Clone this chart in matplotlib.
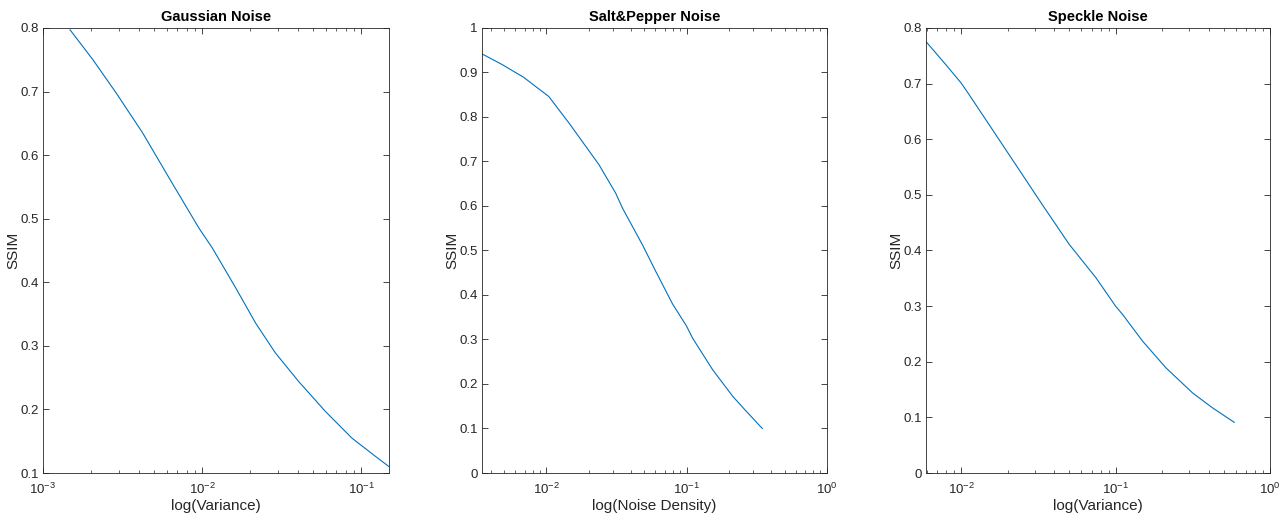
import matplotlib
matplotlib.use('Agg')
import matplotlib.pyplot as plt
import numpy as np
from matplotlib.ticker import FuncFormatter, LogLocator, NullFormatter

plt.rcParams['font.family'] = ['Liberation Sans Narrow', 'Liberation Sans', 'DejaVu Sans']
plt.rcParams['mathtext.default'] = 'regular'

# SSIM vs noise level
gauss_var = [0.00148, 0.00206, 0.00288, 0.00423, 0.00621, 0.00957, 0.0116, 0.0163,
             0.0217, 0.0289, 0.0405, 0.0596, 0.0875, 0.122, 0.15]
gauss_ssim = [0.797, 0.750, 0.698, 0.635, 0.564, 0.485, 0.454, 0.391,
              0.336, 0.289, 0.244, 0.197, 0.155, 0.127, 0.110]

sp_density = [0.00346, 0.00482, 0.00689, 0.0104, 0.01445, 0.0237, 0.0312, 0.0348,
              0.0484, 0.0603, 0.0794, 0.1, 0.1104, 0.1535, 0.2137, 0.266, 0.347]
sp_ssim = [0.942, 0.918, 0.889, 0.846, 0.787, 0.693, 0.629, 0.596,
           0.513, 0.453, 0.380, 0.330, 0.303, 0.232, 0.172, 0.139, 0.100]

speckle_var = [0.0059, 0.00796, 0.01, 0.01127, 0.01596, 0.0226, 0.0336, 0.0501,
               0.0746, 0.1, 0.111, 0.1496, 0.212, 0.315, 0.425, 0.587]
speckle_ssim = [0.776, 0.734, 0.701, 0.680, 0.617, 0.554, 0.482, 0.411,
                0.351, 0.300, 0.285, 0.237, 0.189, 0.144, 0.117, 0.091]

panels = [
    ('Gaussian Noise', 'log(Variance)', gauss_var, gauss_ssim,
     (0.001, 0.15), (0.1, 0.8), [0.001, 0.01, 0.1], ['$10^{-3}$', '$10^{-2}$', '$10^{-1}$'],
     [0.0334, 0.0956, 0.2689, 0.851]),
    ('Salt&Pepper Noise', 'log(Noise Density)', sp_density, sp_ssim,
     (0.00346, 1.0), (0.0, 1.0), [0.01, 0.1, 1.0], ['$10^{-2}$', '$10^{-1}$', '$10^{0}$'],
     [0.3743, 0.0956, 0.2681, 0.851]),
    ('Speckle Noise', 'log(Variance)', speckle_var, speckle_ssim,
     (0.0059, 1.0), (0.0, 0.8), [0.01, 0.1, 1.0], ['$10^{-2}$', '$10^{-1}$', '$10^{0}$'],
     [0.7193, 0.0956, 0.2675, 0.851]),
]

fig = plt.figure(figsize=(12.87, 5.23), dpi=100)
axcol = '#262626'

for title, xlabel, x, y, xlim, ylim, xt, xtl, pos in panels:
    ax = fig.add_axes(pos)
    ax.plot(x, y, color='#0072BD', linewidth=0.8)
    ax.set_xscale('log')
    ax.set_xlim(*xlim)
    ax.set_ylim(*ylim)
    ax.set_xticks(xt)
    ax.set_xticklabels(xtl)
    ax.set_yticks(np.round(np.arange(ylim[0], ylim[1] + 0.001, 0.1), 1))
    ax.xaxis.set_minor_locator(LogLocator(base=10, subs=range(2, 10), numticks=20))
    ax.xaxis.set_minor_formatter(NullFormatter())
    ax.yaxis.set_major_formatter(FuncFormatter(lambda v, p: '%g' % round(v, 2)))
    ax.tick_params(which='both', direction='in', top=True, right=True,
                   colors=axcol, labelsize=9.5, labelcolor=axcol)
    ax.tick_params(which='major', length=4, width=0.6)
    ax.tick_params(which='minor', length=2.5, width=0.5)
    ax.tick_params(axis='x', pad=6)
    ax.tick_params(axis='y', pad=3)
    for s in ax.spines.values():
        s.set_color(axcol)
        s.set_linewidth(0.6)
    ax.set_title(title, fontsize=10.5, fontweight='bold', pad=5)
    ax.set_xlabel(xlabel, fontsize=11, color=axcol)
    ax.xaxis.set_label_coords(0.5, -0.058)
    ax.set_ylabel('SSIM', fontsize=11, color=axcol)
    ax.yaxis.set_label_coords(-0.066, 0.5)

fig.savefig('out.png', dpi=100)
